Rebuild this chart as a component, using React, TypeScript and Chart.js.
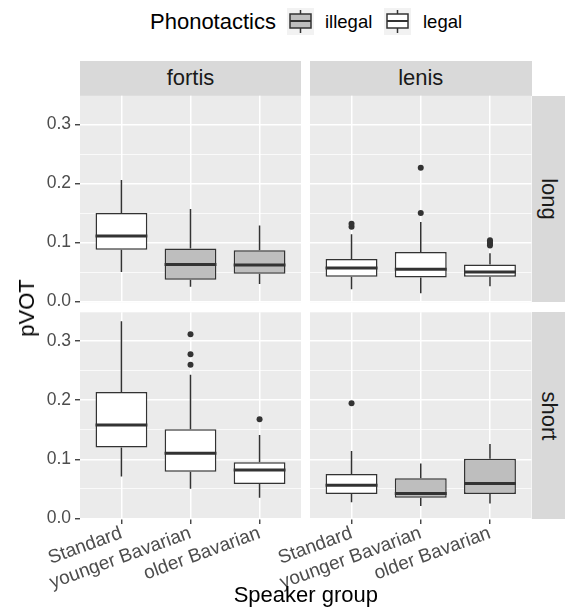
import React, { useEffect, useRef } from 'react';
import { Chart, registerables } from 'chart.js';

Chart.register(...registerables);

// ---------- data ----------
const GROUPS = ['Standard', 'younger Bavarian', 'older Bavarian'];
const Y_TICKS = [0, 0.05, 0.1, 0.15, 0.2, 0.25, 0.3];
const Y_LABELED = [0, 0.1, 0.2, 0.3];
const Y_MIN = -0.0012;
const Y_MAX = 0.349;

// each row: [lower whisker, Q1, median, Q3, upper whisker]
const FORTIS_LONG = [
  [0.05, 0.088, 0.111, 0.15, 0.206],
  [0.025, 0.037, 0.063, 0.09, 0.157],
  [0.03, 0.047, 0.062, 0.087, 0.129],
];
const FORTIS_LONG_PHONO = ['legal', 'illegal', 'illegal'];
const FORTIS_LONG_OUTLIERS = [[], [], []];

const LENIS_LONG = [
  [0.021, 0.042, 0.057, 0.072, 0.114],
  [0.014, 0.041, 0.055, 0.084, 0.135],
  [0.026, 0.042, 0.05, 0.063, 0.082],
];
const LENIS_LONG_PHONO = ['legal', 'legal', 'legal'];
const LENIS_LONG_OUTLIERS = [[0.127, 0.132], [0.15, 0.227], [0.095, 0.098, 0.101, 0.104]];

const FORTIS_SHORT = [
  [0.071, 0.12, 0.158, 0.214, 0.334],
  [0.05, 0.079, 0.11, 0.151, 0.243],
  [0.035, 0.058, 0.082, 0.095, 0.141],
];
const FORTIS_SHORT_PHONO = ['legal', 'legal', 'legal'];
const FORTIS_SHORT_OUTLIERS = [[], [0.26, 0.278, 0.312], [0.168]];

const LENIS_SHORT = [
  [0.027, 0.041, 0.056, 0.075, 0.114],
  [0.021, 0.035, 0.042, 0.068, 0.093],
  [0.025, 0.041, 0.059, 0.101, 0.126],
];
const LENIS_SHORT_PHONO = ['legal', 'illegal', 'illegal'];
const LENIS_SHORT_OUTLIERS = [[0.195], [], []];

const LEGEND_LEVELS = ['illegal', 'legal'];

// ---------- style ----------
const FONT = "'Liberation Sans', Arial, Helvetica, sans-serif";
const FILL = { illegal: '#BEBEBE', legal: '#FFFFFF' };
const INK = '#333333';
const PANEL_BG = '#EBEBEB';
const STRIP_BG = '#D9D9D9';
const SMALL = 17.5;
const XLAB = 19;
const LEG = 18.5;
const STRIP = 22;
const TITLE = 22;

const isMajor = (v) => Math.abs(v * 10 - Math.round(v * 10)) < 1e-6;

const bgPlugin = {
  id: 'panelBg',
  beforeDraw(chart) {
    const { ctx, chartArea: a } = chart;
    ctx.save();
    ctx.fillStyle = PANEL_BG;
    ctx.fillRect(a.left, a.top, a.right - a.left, a.bottom - a.top);
    ctx.restore();
  },
};

const boxPlugin = {
  id: 'boxParts',
  afterDatasetsDraw(chart, _args, opts) {
    const { ctx } = chart;
    const y = chart.scales.y;
    const meta = chart.getDatasetMeta(0);
    const stats = opts.stats || [];
    ctx.save();
    ctx.strokeStyle = INK;
    meta.data.forEach((bar, i) => {
      const [lo, q1, med, q3, hi] = stats[i];
      const x = bar.x;
      const half = bar.width / 2;
      ctx.lineWidth = 1.5;
      ctx.beginPath();
      ctx.moveTo(x, y.getPixelForValue(q3));
      ctx.lineTo(x, y.getPixelForValue(hi));
      ctx.moveTo(x, y.getPixelForValue(q1));
      ctx.lineTo(x, y.getPixelForValue(lo));
      ctx.stroke();
      ctx.lineWidth = 3;
      const ym = y.getPixelForValue(med);
      ctx.beginPath();
      ctx.moveTo(x - half, ym);
      ctx.lineTo(x + half, ym);
      ctx.stroke();
    });
    ctx.restore();
  },
};

type PanelDef = {
  stats: number[][];
  phono: string[];
  outliers: number[][];
  left: number; right: number; top: number; bottom: number;
  yAxis: boolean; xAxis: boolean;
};

const PANELS: PanelDef[] = [
  { stats: FORTIS_LONG, phono: FORTIS_LONG_PHONO, outliers: FORTIS_LONG_OUTLIERS, left: 80, right: 301, top: 95.7, bottom: 302.3, yAxis: true, xAxis: false },
  { stats: LENIS_LONG, phono: LENIS_LONG_PHONO, outliers: LENIS_LONG_OUTLIERS, left: 310, right: 531.5, top: 95.7, bottom: 302.3, yAxis: false, xAxis: false },
  { stats: FORTIS_SHORT, phono: FORTIS_SHORT_PHONO, outliers: FORTIS_SHORT_OUTLIERS, left: 80, right: 301, top: 312.3, bottom: 519, yAxis: true, xAxis: true },
  { stats: LENIS_SHORT, phono: LENIS_SHORT_PHONO, outliers: LENIS_SHORT_OUTLIERS, left: 310, right: 531.5, top: 312.3, bottom: 519, yAxis: false, xAxis: true },
];

function geometry(p: PanelDef) {
  const cl = p.yAxis ? 0 : p.left - 60;
  const ct = Math.floor(p.top - 25);
  const cr = Math.ceil(p.right + 10);
  const cb = p.xAxis ? 607 : Math.ceil(p.bottom + 30);
  return {
    cl, ct, w: cr - cl, h: cb - ct,
    padding: {
      left: p.yAxis ? 0 : p.left - cl,
      top: p.top - ct,
      right: cr - p.right,
      bottom: p.xAxis ? 0 : cb - p.bottom,
    },
    yWidth: p.yAxis ? p.left - cl : 0,
    xHeight: p.xAxis ? cb - p.bottom : 0,
  };
}

function Panel({ p }: { p: PanelDef }) {
  const ref = useRef<HTMLCanvasElement | null>(null);
  const g = geometry(p);
  useEffect(() => {
    if (!ref.current) return;
    const outlierPts = p.outliers.flatMap((arr, i) => arr.map((v) => ({ x: i + 1, y: v })));
    const chart = new Chart(ref.current, {
      type: 'bar',
      data: {
        datasets: [
          {
            type: 'bar',
            data: p.stats.map((s, i) => ({ x: i + 1, y: [s[1], s[3]] })),
            backgroundColor: p.phono.map((ph) => FILL[ph]),
            borderColor: INK,
            borderWidth: 1.5,
            borderSkipped: false,
            barPercentage: 0.75,
            categoryPercentage: 1,
            order: 0,
          } as any,
          {
            type: 'scatter',
            data: outlierPts,
            pointRadius: 3,
            pointBackgroundColor: INK,
            pointBorderWidth: 0,
            order: 1,
          } as any,
        ],
      },
      options: {
        animation: false,
        responsive: false,
        events: [],
        layout: { padding: g.padding },
        plugins: {
          legend: { display: false },
          tooltip: { enabled: false },
          boxParts: { stats: p.stats },
        } as any,
        scales: {
          x: {
            type: 'linear',
            min: 0.4,
            max: 3.6,
            bounds: 'data',
            offset: false,
            afterBuildTicks: (s) => { s.ticks = GROUPS.map((_, i) => ({ value: i + 1 })); },
            afterFit: (s) => { s.height = g.xHeight; },
            border: { display: false },
            grid: {
              offset: false,
              color: '#FFFFFF',
              lineWidth: 1.5,
              drawTicks: p.xAxis,
              tickLength: 5,
              tickColor: INK,
              tickWidth: 1.3,
            },
            ticks: {
              display: p.xAxis,
              autoSkip: false,
              minRotation: 20,
              maxRotation: 20,
              padding: -2,
              color: '#4D4D4D',
              font: { family: FONT, size: XLAB },
              callback: (v) => GROUPS[Math.round(Number(v)) - 1] ?? '',
            },
          },
          y: {
            type: 'linear',
            min: Y_MIN,
            max: Y_MAX,
            bounds: 'data',
            afterBuildTicks: (s) => { s.ticks = Y_TICKS.map((v) => ({ value: v })); },
            afterFit: (s) => { s.width = g.yWidth; },
            border: { display: false },
            grid: {
              color: '#FFFFFF',
              lineWidth: (c) => (isMajor(c.tick.value) ? 1.5 : 0.75),
              drawTicks: p.yAxis,
              tickLength: 5,
              tickColor: (c) => (isMajor(c.tick.value) ? INK : 'rgba(0,0,0,0)'),
              tickWidth: 1.3,
            },
            ticks: {
              display: p.yAxis,
              autoSkip: false,
              padding: 4,
              color: '#4D4D4D',
              font: { family: FONT, size: SMALL },
              callback: (v) => (Y_LABELED.some((t) => Math.abs(t - Number(v)) < 1e-9) ? Number(v).toFixed(1) : ''),
            },
          },
        },
      } as any,
      plugins: [bgPlugin, boxPlugin],
    });
    return () => chart.destroy();
  }, []);
  return (
    <canvas
      ref={ref}
      width={g.w}
      height={g.h}
      style={{ position: 'absolute', left: g.cl, top: g.ct, width: g.w, height: g.h }}
    />
  );
}

function KeyGlyph({ fill }: { fill: string }) {
  return (
    <svg width={27} height={27} style={{ display: 'block' }}>
      <rect x={0} y={0} width={27} height={27} fill="#F2F2F2" />
      <line x1={13.5} y1={2} x2={13.5} y2={6} stroke={INK} strokeWidth={1.5} />
      <line x1={13.5} y1={20} x2={13.5} y2={25} stroke={INK} strokeWidth={1.5} />
      <rect x={3} y={6} width={21} height={14} fill={fill} stroke={INK} strokeWidth={1.5} />
      <line x1={3} y1={13} x2={24} y2={13} stroke={INK} strokeWidth={2} />
    </svg>
  );
}

const abs = (o: React.CSSProperties): React.CSSProperties => ({ position: 'absolute', ...o });

export default function App() {
  const txt = { fontFamily: FONT, whiteSpace: 'nowrap' as const, lineHeight: 1 };
  const stripBox = { ...txt, background: STRIP_BG, color: '#1A1A1A', fontSize: STRIP, display: 'flex', alignItems: 'center', justifyContent: 'center' };
  return (
    <div style={abs({ left: 0, top: 0, width: 565, height: 607, background: '#FFFFFF', overflow: 'hidden' })}>
      {/* legend */}
      <div style={abs({ ...txt, left: 150, top: 11, fontSize: TITLE, color: '#000' })}>Phonotactics</div>
      <div style={abs({ left: 287, top: 8 })}><KeyGlyph fill={FILL.illegal} /></div>
      <div style={abs({ ...txt, left: 325, top: 12.5, fontSize: LEG, color: '#000' })}>{LEGEND_LEVELS[0]}</div>
      <div style={abs({ left: 384, top: 8 })}><KeyGlyph fill={FILL.legal} /></div>
      <div style={abs({ ...txt, left: 423, top: 12.5, fontSize: LEG, color: '#000' })}>{LEGEND_LEVELS[1]}</div>

      {/* top strips */}
      <div style={abs({ ...stripBox, left: 80, top: 61, width: 221, height: 34.7 })}>fortis</div>
      <div style={abs({ ...stripBox, left: 310, top: 61, width: 221.5, height: 34.7 })}>lenis</div>

      {/* right strips */}
      <div style={abs({ left: 532, top: 95.7, width: 33, height: 206.6, background: STRIP_BG })}>
        <div style={abs({ ...txt, left: '50%', top: '50%', transform: 'translate(-50%, -50%) rotate(90deg)', color: '#1A1A1A', fontSize: STRIP })}>long</div>
      </div>
      <div style={abs({ left: 532, top: 312.3, width: 33, height: 206.7, background: STRIP_BG })}>
        <div style={abs({ ...txt, left: '50%', top: '50%', transform: 'translate(-50%, -50%) rotate(90deg)', color: '#1A1A1A', fontSize: STRIP })}>short</div>
      </div>

      {PANELS.map((p, i) => <Panel key={i} p={p} />)}

      {/* axis titles */}
      <div style={abs({ ...txt, left: 27, top: 307.5, transform: 'translate(-50%, -50%) rotate(-90deg)', fontSize: TITLE, color: '#000' })}>pVOT</div>
      <div style={abs({ ...txt, left: 305.8, top: 595, transform: 'translate(-50%, -50%)', fontSize: TITLE, color: '#000' })}>Speaker group</div>
    </div>
  );
}
